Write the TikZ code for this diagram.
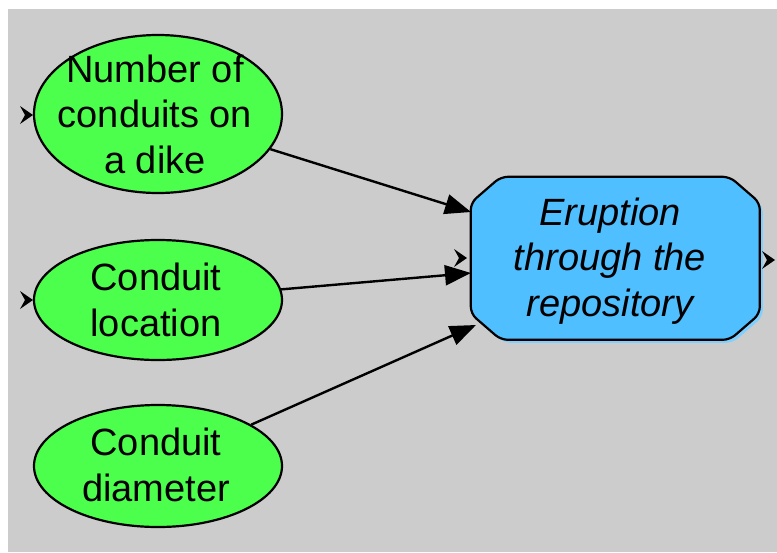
\documentclass[tikz,border=0pt]{standalone}
\usepackage{fontspec}
\setmainfont{Liberation Sans}
\usetikzlibrary{shapes.geometric,arrows.meta}
\definecolor{bggray}{HTML}{CCCCCC}
\definecolor{nodegreen}{HTML}{4CFF4C}
\definecolor{boxblue}{HTML}{4FBFFF}
\definecolor{shadowblue}{HTML}{7FD0FF}
\begin{document}
\begin{tikzpicture}[x=1pt,y=-1pt,
  chance/.style={ellipse,draw=black,line width=2.2pt,fill=nodegreen,minimum width=248pt,inner sep=0pt},
  lbl/.style={align=center,font=\fontsize{38}{45.5}\selectfont,inner sep=0pt},
  goalline/.style={draw=black,line width=2.2pt,fill=boxblue,rounded corners=7pt},
  link/.style={draw=black,line width=2.4pt,-{Triangle[length=26pt,width=20pt]}},
  stub/.style={fill=black}]
\useasboundingbox (0,0) rectangle (777,552);
\fill[bggray] (8,9) rectangle (777,552);
% ellipses
\node[chance,minimum height=158pt] (e1) at (158,114) {};
\node[lbl] (t1) at (155,114) {Number of\\conduits on\\a dike};
\node[chance,minimum height=120pt] (e2) at (158,300) {};
\node[lbl] (t2) at (156,300) {Conduit\\location};
\node[chance,minimum height=122pt] (e3) at (158,466) {};
\node[lbl] (t3) at (156,465) {Conduit\\diameter};
% goal box
\node[minimum width=289pt,minimum height=163pt,inner sep=0pt] (g) at (615.5,258.5) {};
\fill[shadowblue,rounded corners=7pt] ([shift={(3,3)}]g.north west) ++(0,26) -- ++(30,-26) -- ++(229,0) -- ++(30,26)
  -- ++(0,111) -- ++(-30,26) -- ++(-229,0) -- ++(-30,-26) -- cycle;
\path[goalline] (g.north west) ++(0,26) -- ++(30,-26) -- ++(229,0) -- ++(30,26)
  -- ++(0,111) -- ++(-30,26) -- ++(-229,0) -- ++(-30,-26) -- cycle;
\node[lbl,font=\fontsize{38}{45.5}\selectfont\itshape] (tg) at (610,261) {Eruption\\through the\\repository};
% connector ends
\coordinate (p1) at (471,212);
\coordinate (p2) at (471,273);
\coordinate (p3) at (476,325);
\draw[link] (e1) -- (p1);
\draw[link] (e2) -- (p2);
\draw[link] (e3) -- (p3);
% stubs
\coordinate (s1) at (20,115);
\coordinate (s2) at (20,300);
\coordinate (s3) at (454,258);
\coordinate (s4) at (762,260);
\foreach \s in {s1,s2,s3,s4}
  \fill[stub] ([yshift=-9pt]\s) -- ([xshift=13pt]\s) -- ([yshift=9pt]\s) -- ([xshift=5pt]\s) -- cycle;
\end{tikzpicture}
\end{document}
